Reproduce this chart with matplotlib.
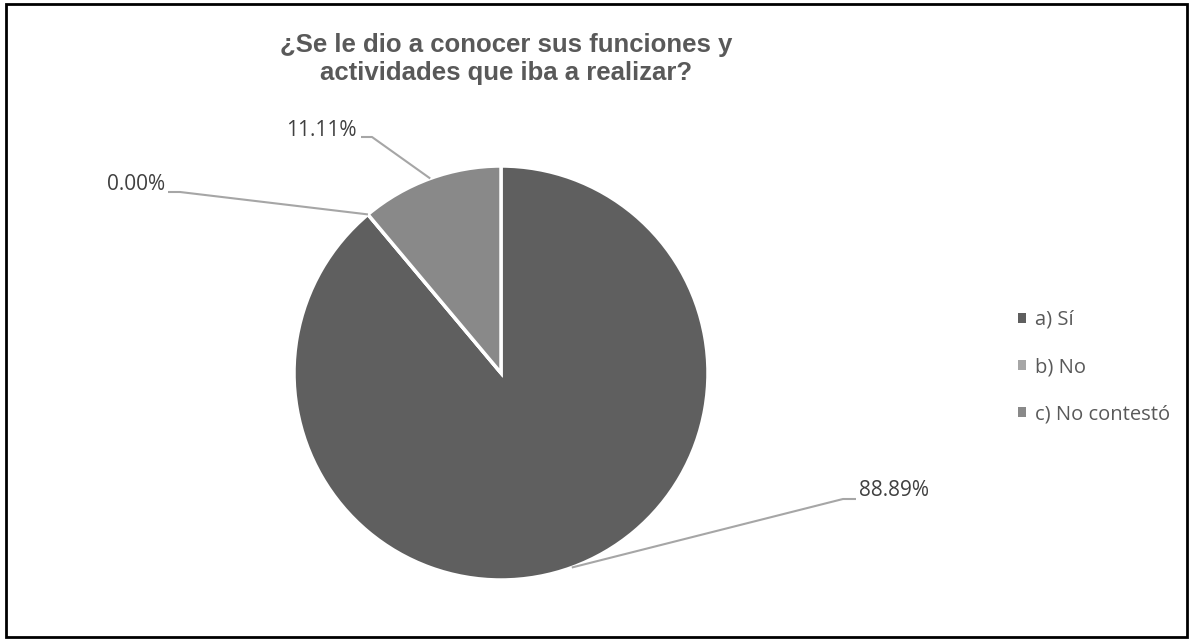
import matplotlib
matplotlib.use("Agg")
import matplotlib.pyplot as plt
import numpy as np
from matplotlib.patches import Rectangle

# data
categories = ["a) Sí", "b) No", "c) No contestó"]
values = [88.89, 0.00, 11.11]
colors = ["#5f5f5f", "#a6a6a6", "#898989"]
title = "¿Se le dio a conocer sus funciones y\nactividades que iba a realizar?"

W, H = 1191, 640
fig = plt.figure(figsize=(W / 100, H / 100), dpi=100)
ax = fig.add_axes([0, 0, 1, 1])

cx, cy, r = 501, H - 373, 207
wedges, _ = ax.pie(values, colors=colors, startangle=90, counterclock=False,
                   center=(cx, cy), radius=r,
                   wedgeprops=dict(edgecolor="white", linewidth=2.5))
ax.set_xlim(0, W)
ax.set_ylim(0, H)
ax.set_aspect("equal")
ax.axis("off")

# label layout (pixels, y down): elbow, end of leader, text anchor, ha
layout = [
    ((843, 499), (856, 499), (859, 491), "left"),
    ((180, 192), (168, 192), (165, 185), "right"),
    ((372, 137), (361, 137), (357, 130), "right"),
]
for w, v, (elb, end, txt, ha) in zip(wedges, values, layout):
    mid = np.deg2rad((w.theta1 + w.theta2) / 2)
    p0 = (cx + r * np.cos(mid), cy + r * np.sin(mid))
    xs = [p0[0], elb[0], end[0]]
    ys = [p0[1], H - elb[1], H - end[1]]
    ax.plot(xs, ys, color="#a6a6a6", lw=1.5, solid_capstyle="butt")
    ax.text(txt[0], H - txt[1], f"{v:.2f}%", ha=ha, va="center",
            fontsize=15, color="#404040", family="Open Sans")

ax.text(506, H - 59, title, ha="center", va="center", fontsize=18.5,
        fontweight="bold", color="#595959", family="Liberation Sans",
        linespacing=1.25)

leg = ax.legend(wedges, categories, loc="center left",
                bbox_to_anchor=(1000 / W, 1 - 367 / H), frameon=False,
                handlelength=0.4, handleheight=0.4, handletextpad=0.45,
                labelspacing=1.35, prop=dict(family="Open Sans", size=14.5))
for t in leg.get_texts():
    t.set_color("#595959")
for h in leg.legend_handles:
    h.set_edgecolor("none")

fig.patches.append(Rectangle((6 / W, 3 / H), 1181 / W, 633 / H, fill=False,
                             edgecolor="black", lw=2, transform=fig.transFigure))

fig.savefig("out.png", dpi=100)
